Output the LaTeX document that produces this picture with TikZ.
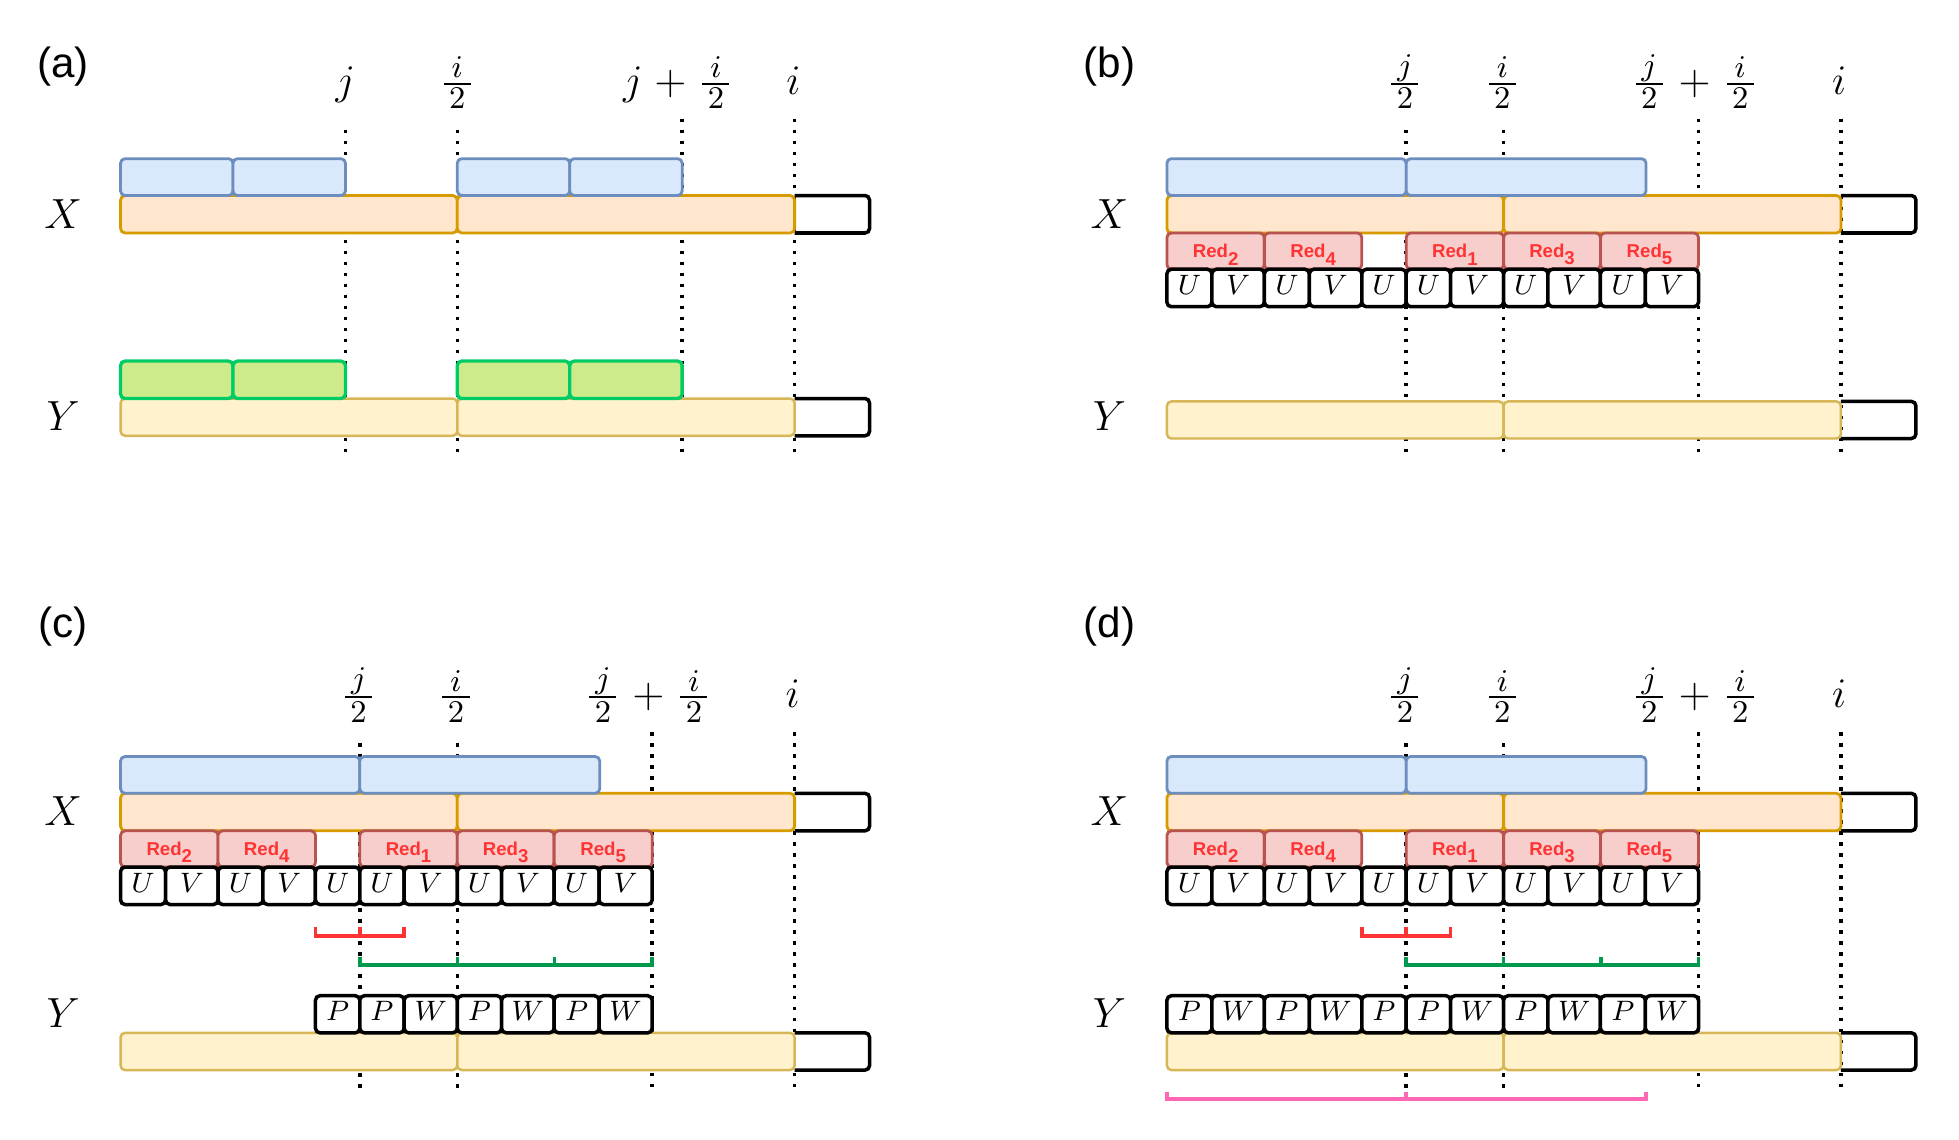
\RequirePackage{fix-cm}
\documentclass[tikz,border=0pt]{standalone}
\usepackage{amsmath}
\usepackage{fontspec}
\setsansfont{Liberation Sans}
\usepackage{xcolor}
\usepackage{tikz}
\DeclareMathSizes{12}{12}{9}{7}
\definecolor{mblue}{HTML}{6C8EBF}
\definecolor{mbluebg}{HTML}{DAE8FC}
\definecolor{morange}{HTML}{D79B00}
\definecolor{morangebg}{HTML}{FFE6CC}
\definecolor{myellow}{HTML}{D6B656}
\definecolor{myellowbg}{HTML}{FFF2CC}
\definecolor{mgreen}{HTML}{00CC66}
\definecolor{mgreenbg}{HTML}{CDEB8B}
\definecolor{mred}{HTML}{B85450}
\definecolor{mredbg}{HTML}{F8CECC}
\definecolor{mredtxt}{HTML}{FF3333}
\definecolor{mdark}{HTML}{00994D}
\definecolor{mpink}{HTML}{FF66B3}
\newcommand{\redn}[1]{Red\raisebox{-2.1pt}{#1}}
\newcommand{\hfr}[2]{\frac{\,#1\,}{\,#2\,}}
\tikzset{
  mguide/.style={black, line width=1pt, dash pattern=on 0.35mm off 0.75mm},
  mbox/.style={rounded corners=0.45mm, line width=0.8pt},
  mhit/.style={mbox, draw=mblue, fill=mbluebg},
  mxbar/.style={mbox, draw=morange, fill=morangebg},
  mybar/.style={mbox, draw=myellow, fill=myellowbg, line width=0.7pt},
  mmatch/.style={mbox, draw=mgreen, fill=mgreenbg, line width=0.95pt},
  mredbox/.style={mbox, draw=mred, fill=mredbg},
  mredtext/.style={text=mredtxt, font=\fontsize{5.3}{6}\sffamily\bfseries, inner sep=0pt, yshift=-0.35mm},
  mcell/.style={mbox, draw=black, fill=white, line width=1pt},
  mcelltext/.style={font=\fontsize{8}{9}\selectfont, inner sep=0pt, yshift=0.3mm},
  mtail/.style={mbox, draw=black, line width=1pt},
  mlbl/.style={font=\fontsize{12}{14}\selectfont, inner sep=0pt},
  mtag/.style={font=\fontsize{12}{14}\sffamily, inner sep=0pt},
  mbrace/.style={line width=1pt},
}

\begin{document}
\begin{tikzpicture}[x=0.125mm, y=-0.125mm]
  \useasboundingbox (0,0) rectangle (1568,912);

  % títulos dos painéis
  \node[mtag] (tagA) at (50.5,53.6) {(a)};
  \node[mtag] (tagB) at (888,53.6) {(b)};
  \node[mtag] (tagC) at (50.5,501.7) {(c)};
  \node[mtag] (tagD) at (888,501.7) {(d)};

  % rótulos X e Y
  \node[mlbl] (xA) at (50.5,171.5) {$X$};
  \node[mlbl] (yA) at (50.5,333) {$Y$};
  \node[mlbl] (xB) at (888,171.5) {$X$};
  \node[mlbl] (yB) at (888,333) {$Y$};
  \node[mlbl] (xC) at (50.5,649.5) {$X$};
  \node[mlbl] (yC) at (50.5,811) {$Y$};
  \node[mlbl] (xD) at (888,649.5) {$X$};
  \node[mlbl] (yD) at (888,811) {$Y$};

  % painel (a)
  \begin{scope}[shift={(96.5,0)}]
    \foreach \gx/\gy in {180/104, 269.5/104, 449.5/95, 539.5/95}
      \draw[mguide] (\gx,\gy) -- (\gx,365);
    \node[mlbl, anchor=base] (a-j) at (180,75.5) {$j$};
    \node[mlbl, anchor=base] (a-ih) at (269.5,75.5) {$\hfr{i}{2}$};
    \node[mlbl, anchor=base] (a-sum) at (446.5,75.5) {$j\mkern1mu+\mkern1mu\hfr{i}{2}$};
    \node[mlbl, anchor=base] (a-i) at (538.5,75.5) {$i$};
    \draw[mtail] (539.5,156.5) -- (599.5,156.5) -- (599.5,186.5) -- (539.5,186.5);
    \draw[mxbar] (0,156.5) rectangle (269.5,186.5);
    \draw[mxbar] (269.5,156.5) rectangle (539.5,186.5);
    \draw[mtail] (539.5,319) -- (599.5,319) -- (599.5,348.8) -- (539.5,348.8);
    \draw[mybar] (0,319) rectangle (269.5,348.8);
    \draw[mybar] (269.5,319) rectangle (539.5,348.8);
    \foreach \a/\b in {0/90, 90/180, 269.5/359.5, 359.5/449.5} {
      \draw[mhit] (\a,127) rectangle (\b,156.5);
      \draw[mmatch] (\a,289) rectangle (\b,319);
    }
  \end{scope}

  % painéis (b), (c) e (d): X com Red e U/V
  \foreach \p/\ox/\oy/\lb/\ge in {b/934/0/0/365, c/96.5/478.5/12.5/395.5, d/934/478.5/12.5/395.5} {
    \begin{scope}[shift={(\ox,\oy)}]
      \draw[mguide] (191.5,104+\lb) -- (191.5,\ge);
      \draw[mguide] (269.5,104+\lb) -- (269.5,\ge);
      \draw[mguide] (425.5,95+\lb) -- (425.5,\ge);
      \draw[mguide] (539.5,95+\lb) -- (539.5,\ge);
      \node[mlbl, anchor=base] (\p-jh) at (190.5,75.5+\lb) {$\hfr{j}{2}$};
      \node[mlbl, anchor=base] (\p-ih) at (268.5,75.5+\lb) {$\hfr{i}{2}$};
      \node[mlbl, anchor=base] (\p-sum) at (422.5,75.5+\lb) {$\hfr{j}{2}\mkern1mu+\mkern1mu\hfr{i}{2}$};
      \node[mlbl, anchor=base] (\p-i) at (538,75.5+\lb) {$i$};
      \draw[mtail] (539.5,156.5) -- (599.5,156.5) -- (599.5,186.5) -- (539.5,186.5);
      \draw[mxbar] (0,156.5) rectangle (269.5,186.5);
      \draw[mxbar] (269.5,156.5) rectangle (539.5,186.5);
      \draw[mhit] (0,127) rectangle (191.5,156.5);
      \draw[mhit] (191.5,127) rectangle (383.5,156.5);
      \foreach \a/\b/\k in {0/78/2, 78/156/4, 191.5/269.5/1, 269.5/347/3, 347/425.5/5} {
        \draw[mredbox] (\a,186.5) rectangle (\b,215.5);
        \node[mredtext] (\p-red\k) at ({(\a+\b)/2},201) {\redn{\k}};
      }
      \foreach \a/\b/\t [count=\k] in {0/36/U, 36/78/V, 78/114/U, 114/156/V, 156/191.5/U,
          191.5/227/U, 227/269.5/V, 269.5/305/U, 305/347/V, 347/383/U, 383/425.5/V} {
        \draw[mcell] (\a,215.5) rectangle (\b,245.5);
        \node[mcelltext] (\p-uv\k) at ({(\a+\b)/2},230.5) {$\t$};
      }
    \end{scope}
  }

  % Y de (b)
  \begin{scope}[shift={(934,0)}]
    \draw[mtail] (539.5,321.3) -- (599.5,321.3) -- (599.5,351) -- (539.5,351);
    \draw[mybar] (0,321.3) rectangle (269.5,351);
    \draw[mybar] (269.5,321.3) rectangle (539.5,351);
  \end{scope}

  % Y de (c)
  \begin{scope}[shift={(96.5,478.5)}]
    \draw[mbrace, mredtxt] (156,263.5) -- (156,270.5) -- (227,270.5) -- (227,263.5);
    \draw[mbrace, mredtxt] (191.5,263.5) -- (191.5,270.5);
    \draw[mbrace, mdark] (191.5,287.5) -- (191.5,294) -- (425.5,294) -- (425.5,287.5);
    \foreach \tx in {269.5, 347.5}
      \draw[mbrace, mdark] (\tx,287.5) -- (\tx,294);
    \draw[mtail] (539.5,348.2) -- (599.5,348.2) -- (599.5,378) -- (539.5,378);
    \draw[mybar] (0,348.2) rectangle (269.5,378);
    \draw[mybar] (269.5,348.2) rectangle (539.5,378);
    \foreach \a/\b/\t [count=\k] in {156/191.5/P, 191.5/227/P, 227/269.5/W, 269.5/305/P,
        305/347/W, 347/383/P, 383/425.5/W} {
      \draw[mcell] (\a,318.5) rectangle (\b,348.2);
      \node[mcelltext] (c-pw\k) at ({(\a+\b)/2},333.3) {$\t$};
    }
  \end{scope}

  % Y de (d)
  \begin{scope}[shift={(934,478.5)}]
    \draw[mbrace, mredtxt] (156,263.5) -- (156,270.5) -- (227,270.5) -- (227,263.5);
    \draw[mbrace, mredtxt] (191.5,263.5) -- (191.5,270.5);
    \draw[mbrace, mdark] (191.5,287.5) -- (191.5,294) -- (425.5,294) -- (425.5,287.5);
    \foreach \tx in {269.5, 347.5}
      \draw[mbrace, mdark] (\tx,287.5) -- (\tx,294);
    \draw[mtail] (539.5,348.2) -- (599.5,348.2) -- (599.5,378) -- (539.5,378);
    \draw[mybar] (0,348.2) rectangle (269.5,378);
    \draw[mybar] (269.5,348.2) rectangle (539.5,378);
    \foreach \a/\b/\t [count=\k] in {0/36/P, 36/78/W, 78/114/P, 114/156/W, 156/191.5/P,
        191.5/227/P, 227/269.5/W, 269.5/305/P, 305/347/W, 347/383/P, 383/425.5/W} {
      \draw[mcell] (\a,318.5) rectangle (\b,348.2);
      \node[mcelltext] (d-pw\k) at ({(\a+\b)/2},333.3) {$\t$};
    }
    \draw[mbrace, mpink] (0,395.5) -- (0,401.2) -- (383.5,401.2) -- (383.5,395.5);
    \draw[mbrace, mpink] (191.5,395.5) -- (191.5,401.2);
  \end{scope}

\end{tikzpicture}
\end{document}
